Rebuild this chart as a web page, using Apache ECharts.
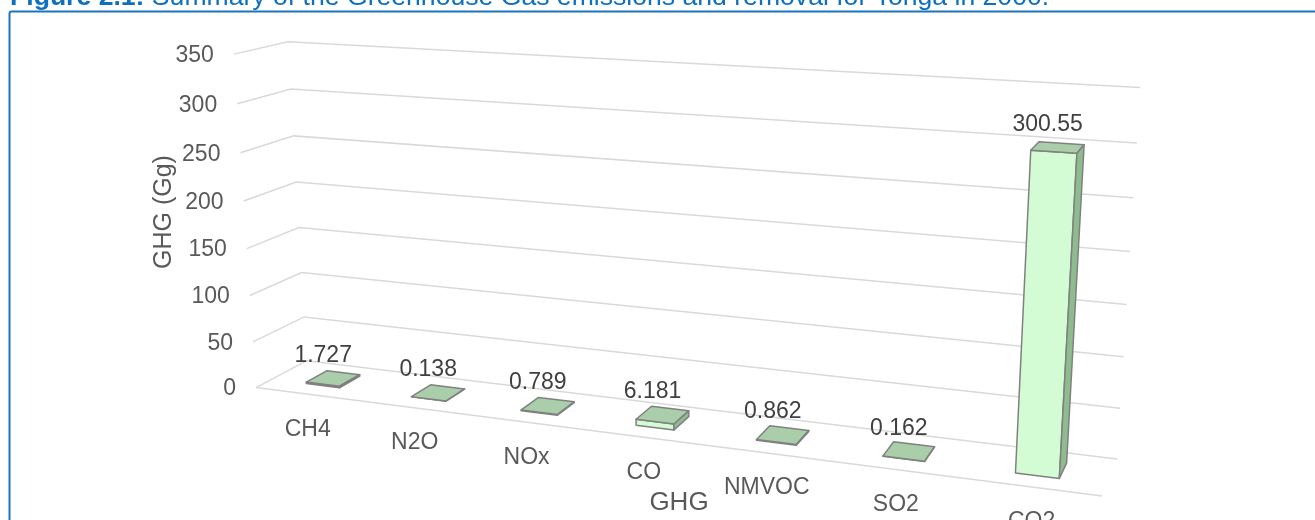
<!DOCTYPE html>
<html>
<head>
<meta charset="utf-8">
<script src="https://cdn.jsdelivr.net/npm/echarts@6/dist/echarts.min.js"></script>
<style>
  html, body { margin: 0; padding: 0; background: #ffffff; }
  #chart { width: 1315px; height: 520px; }
</style>
</head>
<body>
<div id="chart"></div>
<script>
// ---- data ----
const gases = ['CH4', 'N2O', 'NOx', 'CO', 'NMVOC', 'SO2', 'CO2'];
const emissions = [1.727, 0.138, 0.789, 6.181, 0.862, 0.162, 300.55];
const yTicks = [0, 50, 100, 150, 200, 250, 300, 350];

const FONT = '"Liberation Sans", Arial, Helvetica, sans-serif';

// ---- perspective camera for the 3-D plot box ----
// world: x across the categories, y up the value axis, z from front (0) to back wall (1)
// screen positions of the box corners and of the 150 level, used to fit the projection
const boxAnchors = [
  [0, 0, 0, 256.7, 386.7],
  [0, 1, 0, 233.3, 54.0],
  [0, 0, 1, 305.5, 361.5],
  [0, 1, 1, 288.3, 41.7],
  [1, 0, 1, 1117.0, 458.0],
  [1, 1, 1, 1140.0, 87.3],
  [1, 0, 0, 1102.0, 496.7],
  [0, 3 / 7, 0, 246.7, 249.0],
  [0, 3 / 7, 1, 300.0, 227.3],
  [1, 3 / 7, 1, 1127.0, 305.0]
];

function fitCamera(pts) {
  const cx = 650, cy = 260, s = 500;
  const rows = [], rhs = [];
  pts.forEach(function (p) {
    const X = p[0], Y = p[1], Z = p[2];
    const u = (p[3] - cx) / s, v = (p[4] - cy) / s;
    rows.push([X, Y, Z, 1, 0, 0, 0, 0, -u * X, -u * Y, -u * Z]); rhs.push(u);
    rows.push([0, 0, 0, 0, X, Y, Z, 1, -v * X, -v * Y, -v * Z]); rhs.push(v);
  });
  const n = 11, M = [];
  for (let i = 0; i < n; i++) M.push(new Array(n + 1).fill(0));
  for (let r = 0; r < rows.length; r++) {
    for (let i = 0; i < n; i++) {
      for (let j = 0; j < n; j++) M[i][j] += rows[r][i] * rows[r][j];
      M[i][n] += rows[r][i] * rhs[r];
    }
  }
  for (let c = 0; c < n; c++) {
    let piv = c;
    for (let r = c + 1; r < n; r++) if (Math.abs(M[r][c]) > Math.abs(M[piv][c])) piv = r;
    const tmp = M[c]; M[c] = M[piv]; M[piv] = tmp;
    for (let r = 0; r < n; r++) {
      if (r === c) continue;
      const f = M[r][c] / M[c][c];
      for (let k = c; k <= n; k++) M[r][k] -= f * M[c][k];
    }
  }
  const q = M.map(function (row, i) { return row[n] / row[i]; });
  return function (X, Y, Z) {
    const w = q[8] * X + q[9] * Y + q[10] * Z + 1;
    return [cx + s * (q[0] * X + q[1] * Y + q[2] * Z + q[3]) / w,
            cy + s * (q[4] * X + q[5] * Y + q[6] * Z + q[7]) / w];
  };
}
const project = fitCamera(boxAnchors);

// bar footprint inside each category band and its depth span
const BAR_FRACTION = 0.32;
const BAR_Z0 = 0.3, BAR_Z1 = 0.72;

const GRID_COLOR = '#D9D9D9';
const FACE = { front: '#D4FCD4', top: '#A9CEA9', side: '#8FBC8F' };
const EDGE = '#808080';

function signedArea(pts) {
  let a = 0;
  for (let i = 0; i < pts.length; i++) {
    const p = pts[i], q = pts[(i + 1) % pts.length];
    a += p[0] * q[1] - q[0] * p[1];
  }
  return a / 2;
}
// orientation that a camera-facing face has on screen
const FRONT_SIGN = Math.sign(signedArea([
  project(0, 0, 0), project(0, 1, 0), project(1, 1, 0), project(1, 0, 0)
]));

// helpers turning the hidden cartesian scales into box coordinates
function normX(cs, px) { return (px - cs.x) / cs.width; }
function normY(cs, py) { return (cs.y + cs.height - py) / cs.height; }

function renderFrame(params, api) {
  const cs = params.coordSys;
  const tick = api.value(1);
  const Y = normY(cs, api.coord([0, tick])[1]);
  const a = project(0, Y, 0), b = project(0, Y, 1), c = project(1, Y, 1);
  const children = [{
    type: 'polyline',
    shape: { points: [a, b, c] },
    style: { stroke: GRID_COLOR, lineWidth: 1.5, fill: null }
  }, {
    type: 'text',
    x: a[0] - 20, y: a[1] + 1.5,
    style: { text: String(tick), align: 'right', verticalAlign: 'middle',
             fill: '#595959', font: '23px ' + FONT }
  }];
  if (tick === 0) {
    children.push({
      type: 'polyline',
      shape: { points: [a, project(1, 0, 0)] },
      style: { stroke: GRID_COLOR, lineWidth: 1.5, fill: null }
    });
  }
  return { type: 'group', children: children };
}

function renderBar(params, api) {
  const cs = params.coordSys;
  const idx = api.value(0), val = api.value(1);
  const top = api.coord([idx, val]);
  const base = api.coord([idx, 0]);
  const band = api.size([1, 0])[0];
  const xc = normX(cs, top[0]);
  const half = BAR_FRACTION * band / cs.width / 2;
  const x0 = xc - half, x1 = xc + half;
  const y0 = normY(cs, base[1]), y1 = normY(cs, top[1]);
  const z0 = BAR_Z0, z1 = BAR_Z1;
  const V = function (x, y, z) { return project(x, y, z); };
  const faces = [
    { pts: [V(x0, y0, z0), V(x0, y1, z0), V(x1, y1, z0), V(x1, y0, z0)], fill: FACE.front },
    { pts: [V(x0, y0, z1), V(x1, y0, z1), V(x1, y1, z1), V(x0, y1, z1)], fill: FACE.front },
    { pts: [V(x0, y1, z0), V(x0, y1, z1), V(x1, y1, z1), V(x1, y1, z0)], fill: FACE.top },
    { pts: [V(x0, y0, z0), V(x1, y0, z0), V(x1, y0, z1), V(x0, y0, z1)], fill: FACE.top },
    { pts: [V(x1, y0, z0), V(x1, y1, z0), V(x1, y1, z1), V(x1, y0, z1)], fill: FACE.side },
    { pts: [V(x0, y0, z0), V(x0, y0, z1), V(x0, y1, z1), V(x0, y1, z0)], fill: FACE.side }
  ];
  const children = [];
  faces.forEach(function (f) {
    if (Math.sign(signedArea(f.pts)) === FRONT_SIGN) {
      children.push({
        type: 'polygon',
        shape: { points: f.pts },
        style: { fill: f.fill, stroke: EDGE, lineWidth: 1.5, lineJoin: 'round' }
      });
    }
  });
  // value label above the bar
  const tc = project(xc, y1, (z0 + z1) / 2);
  children.push({
    type: 'text',
    x: tc[0] - 10, y: tc[1] - 23,
    style: { text: String(val), align: 'center', verticalAlign: 'middle',
             fill: '#404040', font: '23px ' + FONT }
  });
  // category label under the front edge of the floor
  const fc = project(xc, 0, 0);
  children.push({
    type: 'text',
    x: fc[0], y: fc[1] + 35,
    style: { text: gases[idx], align: 'center', verticalAlign: 'middle',
             fill: '#595959', font: '23px ' + FONT }
  });
  return { type: 'group', children: children };
}

const TITLE_BLUE = '#0F70BE';
const TITLE_SIZE = 26.6;

const chart = echarts.init(document.getElementById('chart'), null, { renderer: 'canvas' });
chart.setOption({
  animation: false,
  backgroundColor: '#ffffff',
  grid: { left: 0, right: 0, top: 0, bottom: 0 },
  xAxis: { type: 'category', data: gases, show: false },
  yAxis: { type: 'value', min: 0, max: 350, interval: 50, show: false },
  graphic: [
    {
      type: 'rect', z: 0,
      shape: { x: 9.5, y: 11.5, width: 1400, height: 600, r: 2 },
      style: { fill: null, stroke: '#1C75BC', lineWidth: 2 }
    },
    {
      type: 'text', x: 10, y: -2.5,
      style: {
        text: '{b|Figure 2.1:} {r|Summary of the Greenhouse Gas emissions and removal for Tonga in 2000.}',
        fill: TITLE_BLUE, font: TITLE_SIZE + 'px ' + FONT, verticalAlign: 'middle',
        rich: {
          b: { fill: TITLE_BLUE, fontWeight: 'bold', fontSize: TITLE_SIZE, fontFamily: FONT, verticalAlign: 'middle' },
          r: { fill: TITLE_BLUE, fontSize: TITLE_SIZE, fontFamily: FONT, verticalAlign: 'middle' }
        }
      }
    },
    {
      type: 'text', x: 164, y: 212, rotation: Math.PI / 2,
      style: { text: 'GHG (Gg)', align: 'center', verticalAlign: 'middle',
               fill: '#595959', font: '25px ' + FONT }
    },
    {
      type: 'text', x: 679, y: 503,
      style: { text: 'GHG', align: 'center', verticalAlign: 'middle',
               fill: '#595959', font: '26px ' + FONT }
    }
  ],
  series: [
    {
      type: 'custom', name: 'grid', z: 1, clip: false, silent: true,
      renderItem: renderFrame,
      data: yTicks.map(function (t) { return [0, t]; })
    },
    {
      type: 'custom', name: 'GHG', z: 2, clip: false, silent: true,
      renderItem: renderBar,
      data: emissions.map(function (v, i) { return [i, v]; })
    }
  ]
});
</script>
</body>
</html>
